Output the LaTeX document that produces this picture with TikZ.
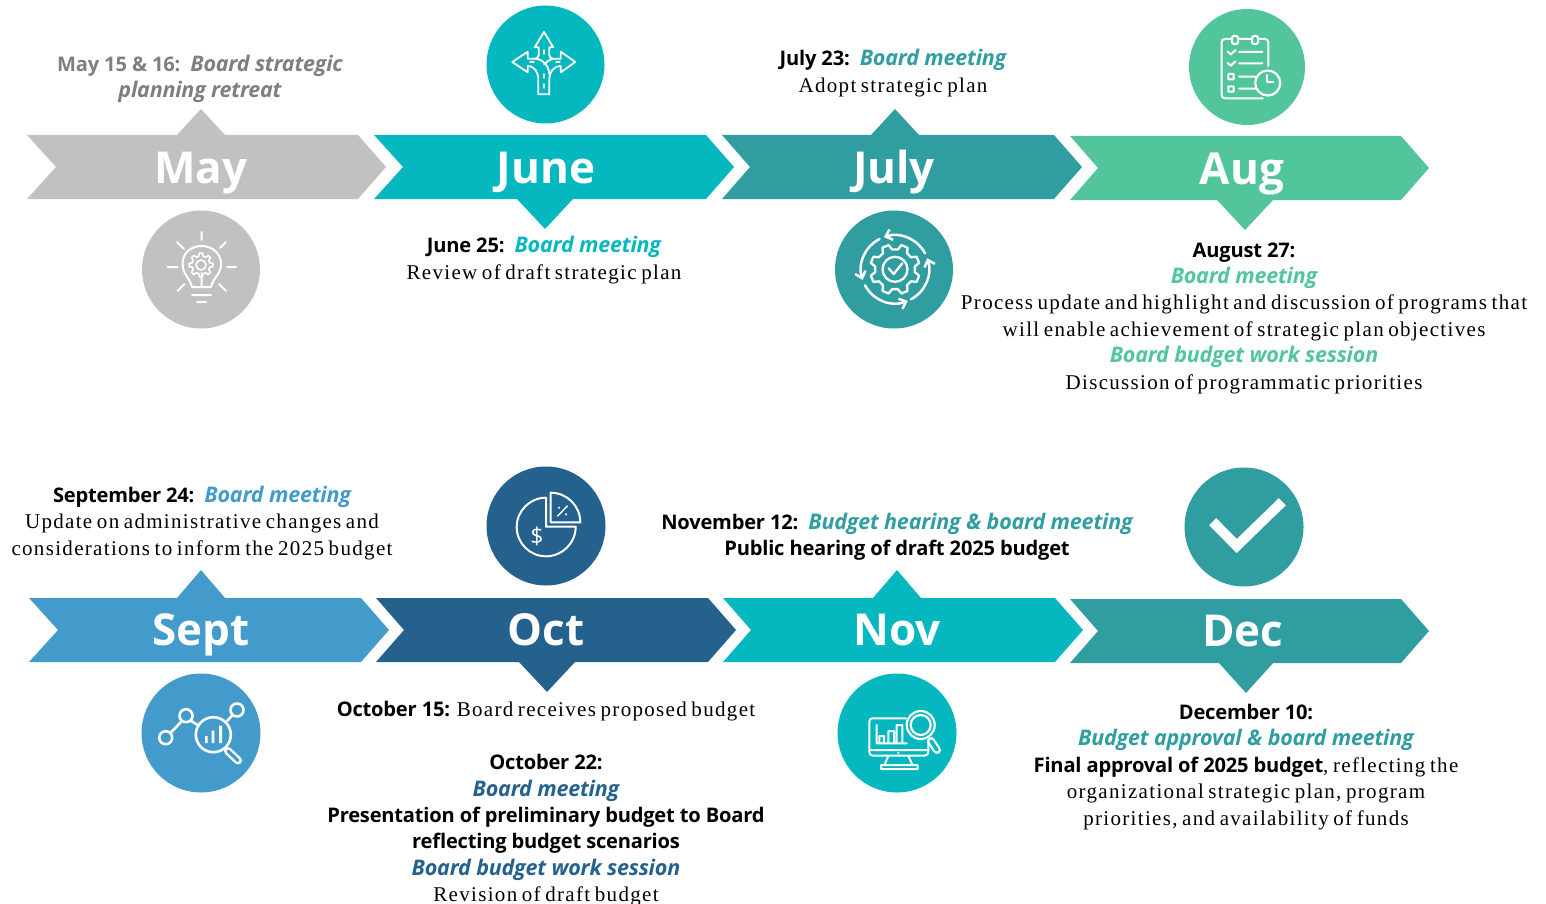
\documentclass[tikz,border=0pt]{standalone}
\usepackage{fontspec}
\usetikzlibrary{arrows.meta}
\setmainfont{Liberation Serif}
\newfontfamily\hdf{Open Sans}[LetterSpace=-1.0]
\newfontfamily\monf{Open Sans}
\newfontfamily\bodyf{Liberation Serif}[LetterSpace=6.3,WordSpace=0.7]
\definecolor{cgrey}{HTML}{C1C1C1}
\definecolor{tgrey}{HTML}{7F7F7F}
\definecolor{cjune}{HTML}{05B7BF}
\definecolor{cjuly}{HTML}{309DA1}
\definecolor{caug}{HTML}{52C69A}
\definecolor{csept}{HTML}{439BCC}
\definecolor{coct}{HTML}{25618D}
\newcommand{\hb}[1]{{\hdf\bfseries\fontsize{20.1}{26.4}\selectfont #1}}
\newcommand{\hi}[2]{{\hdf\bfseries\itshape\fontsize{21.5}{26.4}\selectfont\color{#1}#2}}
\tikzset{
  month/.style={font=\monf\bfseries\fontsize{44}{44}\selectfont,text=white,inner sep=0pt,anchor=base},
  body/.style={font=\bodyf\fontsize{21}{26.4}\selectfont,align=center,inner sep=0pt,text=black},
  disc/.style={circle,inner sep=0pt,minimum size=#1},
  ico/.style={draw=white,line width=2pt,line cap=round,line join=round},
  icob/.style={ico,line width=2.6pt},
}
\newcommand{\gearicon}[7]{% cx cy r1 r2 n, options, phase
  \gdef\gp{}%
  \pgfmathsetmacro\stp{360/#5}%
  \foreach \i in {1,...,#5}{%
    \pgfmathsetmacro\aa{#7+\i*\stp-.32*\stp}\pgfmathsetmacro\ab{#7+\i*\stp-.17*\stp}%
    \pgfmathsetmacro\ac{#7+\i*\stp+.17*\stp}\pgfmathsetmacro\ad{#7+\i*\stp+.32*\stp}%
    \xdef\gp{\gp ([shift={(#1,#2)}]\aa:#3) -- ([shift={(#1,#2)}]\ab:#4) -- ([shift={(#1,#2)}]\ac:#4) -- ([shift={(#1,#2)}]\ad:#3) -- }%
  }%
  \draw[#6] \gp cycle;
}
\begin{document}
\begin{tikzpicture}[x=1pt,y=-1pt]
\useasboundingbox (0,0) rectangle (1546,904);
% ---- chevrons
\fill[cgrey] (27,135) -- (177,135) -- (201,109) -- (225,135) -- (358,135) -- (386,167) -- (358,199) -- (27,199) -- (56,167) -- cycle;
\fill[cjune] (374,135) -- (706,135) -- (734,167) -- (706,199) -- (573,199) -- (545,229) -- (517,199) -- (374,199) -- (403,167) -- cycle;
\fill[cjuly] (722,135) -- (871,135) -- (895,109) -- (919,135) -- (1054,135) -- (1082,167) -- (1054,199) -- (722,199) -- (750,167) -- cycle;
\fill[caug] (1070,136) -- (1401,136) -- (1429,168) -- (1401,200) -- (1273,200) -- (1245,230) -- (1217,200) -- (1070,200) -- (1098,168) -- cycle;
\fill[csept] (29,598) -- (177,598) -- (201,570) -- (225,598) -- (361,598) -- (389,630) -- (361,662) -- (29,662) -- (58,630) -- cycle;
\fill[coct] (376,598) -- (708,598) -- (736,630) -- (708,662) -- (575,662) -- (547,692) -- (519,662) -- (376,662) -- (404,630) -- cycle;
\fill[cjune] (723,598) -- (873,598) -- (897,570) -- (921,598) -- (1055,598) -- (1083,630) -- (1055,662) -- (723,662) -- (751,630) -- cycle;
\fill[cjuly] (1070,599) -- (1401,599) -- (1429,631) -- (1401,663) -- (1273,663) -- (1246,693) -- (1219,663) -- (1070,663) -- (1098,631) -- cycle;
% ---- month labels
\node[month] (mMay) at (201,184) {May};
\node[month] (mJun) at (546,184) {June};
\node[month] (mJul) at (894,184) {July};
\node[month] (mAug) at (1242,185) {Aug};
\node[month] (mSep) at (201,645) {Sept};
\node[month] (mOct) at (546,645) {Oct};
\node[month] (mNov) at (897,645) {Nov};
\node[month] (mDec) at (1243,646) {Dec};
% ---- discs
\node[disc=118pt,fill=cgrey] (dMay) at (201,269.5) {};
\node[disc=118pt,fill=cjune] (dJun) at (545.5,64.5) {};
\node[disc=118pt,fill=cjuly] (dJul) at (894,269.5) {};
\node[disc=116pt,fill=caug] (dAug) at (1247,67) {};
\node[disc=119pt,fill=csept] (dSep) at (201,733) {};
\node[disc=119pt,fill=coct] (dOct) at (546,526) {};
\node[disc=119pt,fill=cjune] (dNov) at (897,733) {};
\node[disc=119pt,fill=cjuly] (dDec) at (1244,527) {};
% ---- bulb icon
\draw[ico] (201.5,232) -- (201.5,240) (177,242) -- (184,249) (226,242) -- (220,248)
  (167.5,267) -- (177.5,267) (227,267) -- (236,267) (177.5,291) -- (184.5,284) (226,291) -- (219,284)
  (192,295) -- (211,295) (197,302) -- (206,302) (201.5,273) -- (201.5,287);
\draw[ico] (192,287) -- (211,287) .. controls (213,278) and (221,274) .. (221,264) .. controls (221,253) and (212,246) .. (201.5,246) .. controls (191,246) and (182.5,253) .. (182.5,264) .. controls (182.5,274) and (190,278) .. (192,287);
\gearicon{201}{265}{9}{12}{8}{ico,line width=1.6pt}{0}
\draw[ico,line width=1.6pt] (201,265) circle[radius=5];
% ---- roads icon
\draw[ico,line width=1.8pt] (538.3,94.3) -- (549.3,94.3) -- (549.3,80) .. controls (549.3,72) and (553,66.5) .. (560.7,66) -- (560.7,72.3) -- (575.3,62) -- (560.7,51.7) -- (560.7,58.7) -- (553,58.7) .. controls (551,58.7) and (549.3,57) .. (549.3,55) -- (549.3,47.3) -- (553.3,47.3) -- (544,32) -- (534.7,47.3) -- (538.7,47.3) -- (538.7,55) .. controls (538.7,57) and (537,58.7) .. (535,58.7) -- (527.7,58.7) -- (527.7,51.7) -- (512.3,62) -- (527.7,72.3) -- (527.7,66) .. controls (535,66.5) and (538.3,72) .. (538.3,80) -- cycle;
\draw[ico,line width=1.8pt] (535,58.7) .. controls (543,59) and (549,66) .. (549.3,74) (553,58.7) .. controls (549,60) and (546,62) .. (544,64.5);
\draw[ico,line width=1.2pt] (544,84) -- (544,88) (544,74) -- (544,78) (544,50) -- (544,54) (530,62) -- (534,62) (556,62) -- (560,62);
% ---- cycle + gear icon
\gearicon{895}{269.3}{20}{25}{8}{ico,line width=2.3pt}{22.5}
\draw[ico,line width=2.3pt] (895,269.3) circle[radius=12.5];
\draw[ico,line width=2.3pt] (888.7,268.3) -- (893.7,274) -- (902.3,263.3);
\begin{scope}[shift={(895,269.3)}]
\draw[ico,line width=2.5pt,-{Straight Barb[length=6pt,width=11pt]}] (-28:34) arc[start angle=-28,end angle=-109,radius=34];
\draw[ico,line width=2.5pt,-{Straight Barb[length=6pt,width=11pt]}] (62:34) arc[start angle=62,end angle=-19,radius=34];
\draw[ico,line width=2.5pt,-{Straight Barb[length=6pt,width=11pt]}] (152:34) arc[start angle=152,end angle=68,radius=34];
\draw[ico,line width=2.5pt,-{Straight Barb[length=6pt,width=11pt]}] (243:34) arc[start angle=243,end angle=162,radius=34];
\end{scope}
% ---- clipboard icon
\draw[ico] (1268.3,66) -- (1268.3,42) .. controls (1268.3,40) and (1267,39) .. (1265,39) -- (1225,39) .. controls (1223,39) and (1221.7,40) .. (1221.7,42) -- (1221.7,95) .. controls (1221.7,97) and (1223,98.3) .. (1225,98.3) -- (1262.7,98.3);
\draw[ico,fill=caug,rounded corners=1.5pt] (1232,36) rectangle (1238,44);
\draw[ico,fill=caug,rounded corners=1.5pt] (1252,36) rectangle (1258,44);
\draw[ico] (1227.7,51.7) -- (1230.7,54.3) -- (1235.7,50) (1239,52) -- (1262.3,52)
  (1227.7,63) -- (1230.7,65.6) -- (1235.7,61.3) (1239,63.3) -- (1262.3,63.3)
  (1228.3,74) rectangle (1233.7,79.3) (1228.3,86.3) rectangle (1233.7,91.7)
  (1239,76.7) -- (1256,76.7) (1239,88.7) -- (1256,88.7);
\draw[ico,line width=2.2pt] (1267.7,83) circle[radius=12.5];
\draw[ico] (1267,75) -- (1267,82.3) -- (1273.3,82.3);
% ---- analytics icon
\draw[icob] (165.7,737.7) circle[radius=6.5] (186,715.7) circle[radius=6.5] (237,710) circle[radius=6.5]
  (213.3,734.7) circle[radius=17.5]
  (171,732.3) -- (180.7,722.3) (191.3,721) -- (198.7,725.7) (227.3,720.7) -- (232.7,715);
\draw[white,line width=8pt,line cap=round] (228,751) -- (238,760.5);
\draw[csept,line width=3.2pt,line cap=round] (228,751) -- (238,760.5);
\fill[white] (205,736) rectangle (207.7,743) (211.7,730.7) rectangle (214.3,743) (219,725.7) rectangle (222,743);
% ---- pie icon
\draw[ico] (546,497.7) arc[start angle=-90,end angle=-270,radius=29.3] arc[start angle=90,end angle=0,radius=29.7] -- (546,526.7) -- cycle;
\draw[ico] (550.7,522.3) -- (550.7,492.7) arc[start angle=-90,end angle=0,radius=29.6] -- cycle;
\draw[ico,line width=1.4pt] (557.7,516) -- (567.3,506);
\fill[white] (559,507.7) circle[radius=1.2] (566,514.3) circle[radius=1.2];
\node[font=\hdf\fontsize{23}{23}\selectfont,text=white,inner sep=0pt] (dollar) at (537,536.5) {\$};
% ---- monitor icon
\draw[ico] (906,718.3) -- (872.5,718.3) .. controls (870.5,718.3) and (869.3,719.5) .. (869.3,721.5) -- (869.3,752) .. controls (869.3,754) and (870.5,755.5) .. (872.5,755.5) -- (925,755.5) .. controls (927,755.5) and (928.3,754) .. (928.3,752) -- (928.3,741);
\draw[ico] (869.3,750) -- (928.3,750) (876.7,725) -- (876.7,743.3) -- (906.7,743.3)
  (879.3,743) -- (879.3,736) -- (884,736) -- (884,743) (888.3,743) -- (888.3,731) -- (894,731) -- (894,743)
  (896.7,743) -- (896.7,725) -- (902.3,725) -- (902.3,743)
  (888.3,756) -- (884.5,765) (908.3,756) -- (912.5,765)
  (881,765) rectangle (917.5,769);
\fill[white] (898.3,753) circle[radius=1.2];
\draw[ico,line width=2.2pt] (920.7,725) circle[radius=14] (920.7,725) circle[radius=10];
\draw[white,line width=8pt,line cap=round] (931,741) -- (937,750);
\draw[cjune,line width=3.6pt,line cap=round] (931,741) -- (937,750);
% ---- check icon
\draw[white,line width=10pt,line cap=butt,miter limit=10] (1212.7,521.7) -- (1236.7,546) -- (1282.3,501.7);
% ---- text
\node[body] (tMay) at (200,79) {\hb{\color{tgrey}May 15 \& 16:\ \ }\hi{tgrey}{Board strategic}\\ \hi{tgrey}{planning retreat}};
\node[body] (tJun) at (544,260) {\hb{June 25:\ \ }\hi{cjune}{Board meeting}\\Review of draft strategic plan};
\node[body] (tJul) at (893,73) {\hb{July 23:\ \ }\hi{cjuly}{Board meeting}\\Adopt strategic plan};
\node[body] (tAug) at (1244,318) {\hb{August 27:}\\ \hi{caug}{Board meeting}\\Process update and highlight and discussion of programs that\\will enable achievement of strategic plan objectives\\ \hi{caug}{Board budget work session}\\Discussion of programmatic priorities};
\node[body] (tSep) at (202,523) {\hb{September 24:\ \ }\hi{csept}{Board meeting}\\Update on administrative changes and\\considerations to inform the 2025 budget};
\node[body] (tOct) at (546,804) {\hb{October 15: }Board receives proposed budget\\[26.4pt]\hb{October 22:}\\ \hi{coct}{Board meeting}\\ \hb{Presentation of preliminary budget to Board}\\ \hb{reflecting budget scenarios}\\ \hi{coct}{Board budget work session}\\Revision of draft budget};
\node[body] (tNov) at (897,537) {\hb{November 12:\ \ }\hi{cjuly}{Budget hearing \& board meeting}\\ \hb{Public hearing of draft 2025 budget}};
\node[body] (tDec) at (1246,767) {\hb{December 10:}\\ \hi{cjuly}{Budget approval \& board meeting}\\ \hb{Final approval of 2025 budget}, reflecting the\\organizational strategic plan, program\\priorities, and availability of funds};
\end{tikzpicture}
\end{document}
